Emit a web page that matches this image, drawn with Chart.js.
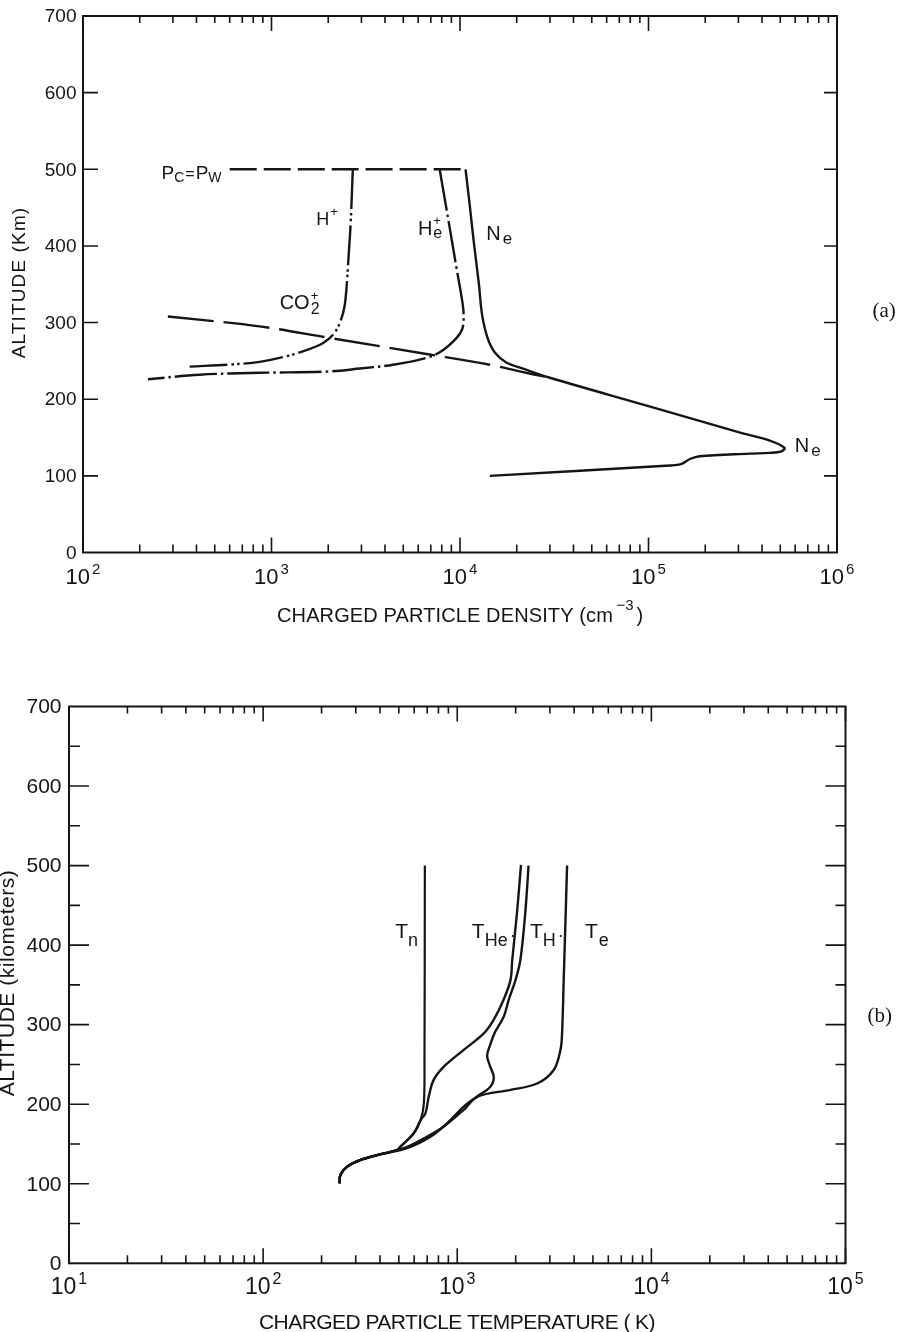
<!DOCTYPE html>
<html><head><meta charset="utf-8">
<script src="https://cdn.jsdelivr.net/npm/chart.js@4.4.1/dist/chart.umd.min.js"></script>
<style>
html,body{margin:0;padding:0;background:#fff;}
#wrap{position:relative;width:906px;height:1332px;overflow:hidden;background:#fff;}
canvas{position:absolute;left:0;}
#c1{top:0;} #c2{top:666px;}
</style></head><body>
<div id="wrap">
<canvas id="c1" width="906" height="666"></canvas>
<canvas id="c2" width="906" height="666"></canvas>
</div>
<script>
// ---------- Panel (a): charged particle density ----------
const densityDecades = [2, 3, 4, 5, 6];
const altitudeTicksA = [0, 100, 200, 300, 400, 500, 600, 700];

const neDensity = [1.07e4, 1.13e4, 1.19e4, 1.26e4, 1.31e4, 1.4e4, 1.53e4, 1.76e4, 2.16e4, 3.0e4, 1.0e5, 3.0e5, 4.4e5, 5.27e5, 5.07e5, 4.4e5, 3.44e5, 1.87e5, 1.66e5, 1.5e5, 1.3e5, 1.44e4];
const neAlt     = [500, 450, 400, 350, 310, 280, 261, 248, 240, 228, 191, 157, 146, 136.5, 132, 130, 129, 125.6, 122, 115.6, 113.5, 100];

const heDensity = [7.8e3, 8.87e3, 9.6e3, 1.025e4, 1.045e4, 1.03e4, 9.6e3, 7.96e3, 6.64e3, 4.42e3, 2.94e3, 1.95e3, 865, 416, 221];
const heAlt     = [500, 420, 370, 330, 311, 292, 280, 262.5, 254, 245, 240, 236, 234.5, 232, 226];

const hDensity = [2.7e3, 2.63e3, 2.55e3, 2.51e3, 2.44e3, 2.3e3, 2.12e3, 1.87e3, 1.53e3, 1.2e3, 865, 625, 368];
const hAlt     = [500, 430, 377, 351, 321, 299, 284, 273, 264, 256, 248.7, 245.5, 242.5];

const co2Density = [282, 865, 2.03e3, 6.64e3, 1.44e4, 2.1e4, 3.0e4];
const co2Alt     = [308, 295, 280, 259, 245, 236, 228];

const pcpwDensity = [600, 1.07e4];
const pcpwAlt     = [500, 500];

// ---------- Panel (b): charged particle temperature ----------
const tempDecades = [1, 2, 3, 4, 5];
const altitudeTicksB = [0, 100, 200, 300, 400, 500, 600, 700];
const altitudeMinorB = [50, 150, 250, 350, 450, 550, 650];

const tnTemp = [248, 250, 271, 318, 387, 491, 510, 597, 647, 673, 678, 681];
const tnAlt  = [100.6, 111, 121.5, 130, 136, 142.5, 146.7, 163.5, 180, 201, 256, 500];

const theTemp = [248, 250, 271, 318, 387, 491, 510, 597, 647, 686, 713, 756, 853, 1080, 1370, 1540, 1730, 1880, 1920, 2030, 2130];
const theAlt  = [100.6, 111, 121.5, 130, 136, 142.5, 146.7, 163.5, 180, 188.7, 209.6, 230.6, 247.3, 268.3, 289, 306, 331, 356, 381.6, 440, 501];

const thTemp = [248, 250, 271, 318, 387, 552, 728, 887, 1080, 1265, 1480, 1542, 1480, 1425, 1480, 1560, 1735, 1840, 1995, 2115, 2240, 2330];
const thAlt  = [100.6, 111, 121.5, 130, 136, 144.7, 159, 176, 197, 209.6, 222, 234, 247, 261, 275, 290, 310, 331, 356, 381.6, 440, 500];

const teTemp = [248, 250, 271, 318, 387, 531, 673, 853, 1080, 1274, 1880, 2580, 3140, 3400, 3467, 3535, 3680];
const teAlt  = [100.6, 111, 121.5, 130, 136, 144.7, 157, 172, 193, 209.6, 218, 226, 243, 268, 289, 356, 500];

// ---------- helpers ----------
const INK = '#151515';
const F = '"Liberation Sans", Arial, sans-serif';
const SERIF = '"Liberation Serif", "Times New Roman", serif';
const pts = (xs, ys) => xs.map((x, i) => ({x: x, y: ys[i]}));

function ds(xs, ys, dash, width) {
  return {data: pts(xs, ys), showLine: true, borderColor: INK, backgroundColor: INK,
    borderWidth: width || 2.4, borderDash: dash || [], pointRadius: 0, pointHoverRadius: 0,
    tension: 0.35, fill: false, clip: false, borderCapStyle: 'butt', borderJoinStyle: 'round'};
}

function drawRich(ctx, x, y, parts) {
  let cx = x, prevStart = x;
  ctx.textAlign = 'left'; ctx.textBaseline = 'alphabetic';
  for (const p of parts) {
    ctx.font = p.size + 'px ' + F;
    const start = p.same ? prevStart : cx;
    ctx.fillText(p.t, start, y + (p.dy || 0));
    const w = ctx.measureText(p.t).width;
    if (!p.same) { prevStart = cx; cx = cx + w + (p.gap || 0); }
  }
  return cx;
}

function spaced(ctx, text, x, y, size, target, align) {
  ctx.font = size + 'px ' + F;
  const hasLS = ('letterSpacing' in ctx);
  if (hasLS) ctx.letterSpacing = '0px';
  const w = ctx.measureText(text).width;
  if (hasLS) ctx.letterSpacing = ((target - w) / text.length) + 'px';
  ctx.textAlign = align || 'left';
  ctx.fillText(text, x, y);
  if (hasLS) ctx.letterSpacing = '0px';
}

function drawFrameTicks(chart, o) {
  const ctx = chart.ctx, a = chart.chartArea, xs = chart.scales.x, ys = chart.scales.y;
  ctx.save();
  ctx.strokeStyle = INK; ctx.fillStyle = INK; ctx.lineWidth = 2;
  ctx.strokeRect(a.left, a.top, a.right - a.left, a.bottom - a.top);
  ctx.lineWidth = 1.6;
  ctx.beginPath();
  const decs = o.decades;
  for (let i = 0; i < decs.length; i++) {
    const base = Math.pow(10, decs[i]);
    const px = xs.getPixelForValue(base);
    ctx.moveTo(px, a.bottom); ctx.lineTo(px, a.bottom - 15);
    ctx.moveTo(px, a.top); ctx.lineTo(px, a.top + 15);
    if (i < decs.length - 1) {
      for (let m = 2; m <= 9; m++) {
        const mx = xs.getPixelForValue(m * base);
        ctx.moveTo(mx, a.bottom); ctx.lineTo(mx, a.bottom - 8);
        ctx.moveTo(mx, a.top); ctx.lineTo(mx, a.top + 7);
      }
    }
  }
  for (const v of o.yTicks) {
    if (v === 0 || v === 700) continue;
    const py = ys.getPixelForValue(v);
    ctx.moveTo(a.left, py); ctx.lineTo(a.left + o.yLenL, py);
    ctx.moveTo(a.right, py); ctx.lineTo(a.right - o.yLenR, py);
  }
  for (const v of (o.yMinor || [])) {
    const py = ys.getPixelForValue(v);
    ctx.moveTo(a.left, py); ctx.lineTo(a.left + 11, py);
    ctx.moveTo(a.right, py); ctx.lineTo(a.right - 10, py);
  }
  ctx.stroke();

  ctx.font = o.yFont + 'px ' + F;
  ctx.textAlign = 'right'; ctx.textBaseline = 'middle';
  for (const v of o.yTicks) {
    ctx.fillText(String(v), a.left - o.yGap, ys.getPixelForValue(v) + 1);
  }
  ctx.textBaseline = 'alphabetic';
  for (const d of decs) {
    const px = xs.getPixelForValue(Math.pow(10, d));
    ctx.font = o.xFont + 'px ' + F;
    const w1 = ctx.measureText('10').width;
    ctx.font = o.xSup + 'px ' + F;
    const w2 = ctx.measureText(String(d)).width;
    const start = px - (w1 + 2 + w2) / 2;
    ctx.textAlign = 'left';
    ctx.font = o.xFont + 'px ' + F;
    ctx.fillText('10', start, o.xBase);
    ctx.font = o.xSup + 'px ' + F;
    ctx.fillText(String(d), start + w1 + 2, o.xBase - 10);
  }
  ctx.restore();
}

function labelAt(chart, xv, yv, parts) {
  const x = chart.scales.x.getPixelForValue(xv), y = chart.scales.y.getPixelForValue(yv);
  drawRich(chart.ctx, x, y, parts);
}

// ---------- chart (a) ----------
const plugA = {
  id: 'panelA',
  afterDraw(chart) {
    const ctx = chart.ctx;
    drawFrameTicks(chart, {decades: densityDecades, yTicks: altitudeTicksA, yLenL: 15, yLenR: 13,
      yFont: 19, yGap: 6.5, xFont: 22, xSup: 15, xBase: 583.5});
    ctx.save(); ctx.fillStyle = INK;
    labelAt(chart, 261, 487.8, [{t:'P', size:19}, {t:'C', size:14, dy:3.5, gap:1}, {t:'=', size:16, gap:1}, {t:'P', size:19}, {t:'W', size:14, dy:3.5}]);
    labelAt(chart, 1730, 427, [{t:'H', size:18, gap:1}, {t:'+', size:13, dy:-9}]);
    labelAt(chart, 5980, 413.9, [{t:'H', size:20, gap:1}, {t:'e', size:16, dy:3}, {t:'+', size:13, dy:-10, same:true}]);
    labelAt(chart, 1105, 318.3, [{t:'CO', size:20, gap:1}, {t:'2', size:16, dy:5}, {t:'+', size:13, dy:-9, same:true}]);
    labelAt(chart, 1.38e4, 408.3, [{t:'N', size:20, gap:2}, {t:'e', size:17, dy:4}]);
    labelAt(chart, 5.97e5, 131.4, [{t:'N', size:20, gap:2}, {t:'e', size:17, dy:4}]);
    ctx.textBaseline = 'alphabetic';
    spaced(ctx, 'CHARGED PARTICLE DENSITY (cm', 277, 621.7, 20, 336, 'left');
    ctx.font = '15px ' + F; ctx.textAlign = 'left';
    ctx.fillText('\u22123', 616.5, 610);
    ctx.font = '20px ' + F;
    ctx.fillText(')', 636.5, 621.7);
    ctx.save();
    ctx.translate(25, 282.5); ctx.rotate(-Math.PI / 2);
    spaced(ctx, 'ALTITUDE (Km)', 0, 0, 19, 151.6, 'center');
    ctx.restore();
    ctx.font = '21px ' + SERIF; ctx.textAlign = 'left';
    ctx.fillText('(a)', 872.5, 316.5);
    ctx.restore();
  }
};

new Chart(document.getElementById('c1'), {
  type: 'scatter',
  data: {datasets: [
    ds(neDensity, neAlt, [], 2.4),
    ds(heDensity, heAlt, [42, 4, 2.5, 4], 2.4),
    ds(hDensity, hAlt, [40, 4, 2.5, 3, 2.5, 4], 2.4),
    ds(co2Density, co2Alt, [46, 10], 2.4),
    ds(pcpwDensity, pcpwAlt, [27, 7], 2.4)
  ]},
  options: {
    responsive: false, animation: false, devicePixelRatio: 1,
    layout: {padding: {left: 83, right: 69, top: 16, bottom: 113.5}},
    plugins: {legend: {display: false}, tooltip: {enabled: false}},
    scales: {
      x: {type: 'logarithmic', min: 100, max: 1e6, display: false},
      y: {type: 'linear', min: 0, max: 700, display: false}
    }
  },
  plugins: [plugA]
});

// ---------- chart (b) ----------
const plugB = {
  id: 'panelB',
  afterDraw(chart) {
    const ctx = chart.ctx;
    drawFrameTicks(chart, {decades: tempDecades, yTicks: altitudeTicksB, yMinor: altitudeMinorB, yLenL: 20, yLenR: 20,
      yFont: 21, yGap: 7.5, xFont: 23, xSup: 16, xBase: 627.5});
    ctx.save(); ctx.fillStyle = INK;
    labelAt(chart, 479, 408.6, [{t:'T', size:21, gap:0}, {t:'n', size:18, dy:8}]);
    labelAt(chart, 1189, 408.6, [{t:'T', size:21, gap:0}, {t:'He', size:18, dy:8, gap:2}, {t:'\u00B7', size:18, dy:3}]);
    labelAt(chart, 2371, 408.6, [{t:'T', size:21, gap:0}, {t:'H', size:18, dy:8, gap:2}, {t:'\u00B7', size:18, dy:3}]);
    labelAt(chart, 4550, 408.6, [{t:'T', size:21, gap:1}, {t:'e', size:18, dy:8}]);
    spaced(ctx, 'CHARGED PARTICLE TEMPERATURE ( K)', 259, 663, 21, 396, 'left');
    ctx.save();
    ctx.translate(13.5, 317); ctx.rotate(-Math.PI / 2);
    spaced(ctx, 'ALTITUDE (kilometers)', 0, 0, 21, 226.7, 'center');
    ctx.restore();
    ctx.font = '21px ' + SERIF; ctx.textAlign = 'left';
    ctx.fillText('(b)', 867.5, 356);
    ctx.restore();
  }
};

new Chart(document.getElementById('c2'), {
  type: 'scatter',
  data: {datasets: [
    ds(tnTemp, tnAlt, [], 2.2),
    ds(theTemp, theAlt, [], 2.4),
    ds(thTemp, thAlt, [], 2.4),
    ds(teTemp, teAlt, [], 2.4)
  ]},
  options: {
    responsive: false, animation: false, devicePixelRatio: 1,
    layout: {padding: {left: 69, right: 60.5, top: 40.5, bottom: 68.7}},
    plugins: {legend: {display: false}, tooltip: {enabled: false}},
    scales: {
      x: {type: 'logarithmic', min: 10, max: 1e5, display: false},
      y: {type: 'linear', min: 0, max: 700, display: false}
    }
  },
  plugins: [plugB]
});
</script>
</body></html>
